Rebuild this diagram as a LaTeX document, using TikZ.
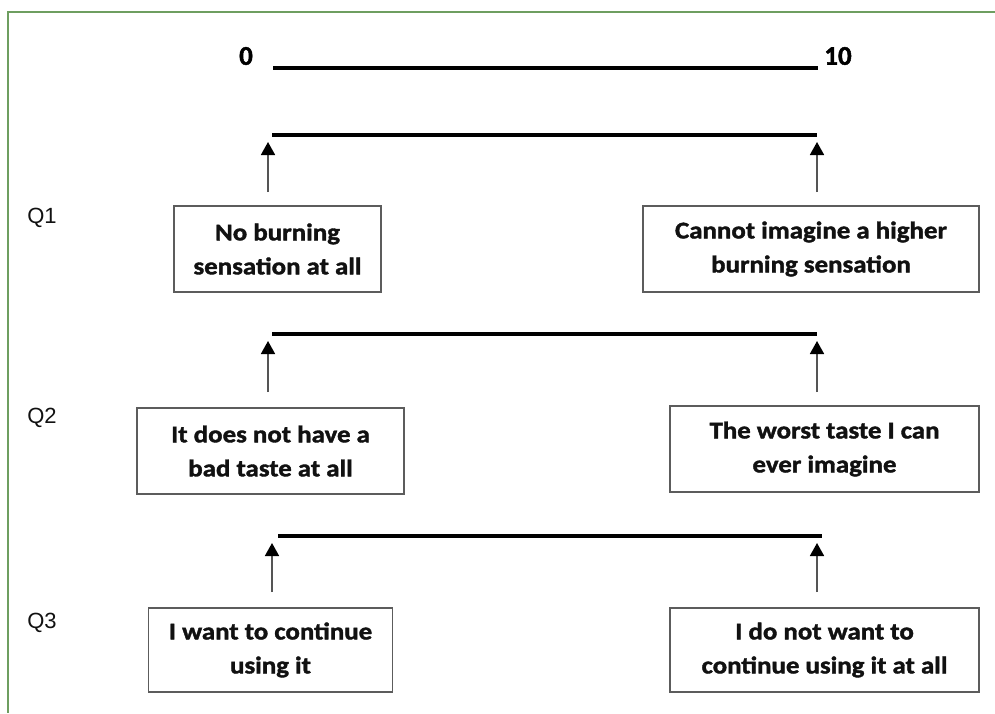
\documentclass[tikz,border=0pt]{standalone}
\usepackage{fontspec}
\setmainfont{Liberation Sans}
\newfontfamily\boxfont{Carlito}[FakeStretch=1.12, BoldFeatures={FakeBold=1.6}]
\newfontfamily\numfont{Carlito}[BoldFeatures={FakeBold=1.6}]
\usetikzlibrary{arrows.meta}
\definecolor{framegreen}{HTML}{6E9E60}
\definecolor{boxgray}{HTML}{5C5C5C}
\definecolor{arrowgray}{HTML}{555555}
\definecolor{textblack}{HTML}{111111}
\tikzset{
  anchorbox/.style={draw=boxgray, line width=1.8pt, inner sep=0pt, align=center,
    text=textblack, minimum height=#1, font=\boxfont\bfseries\fontsize{24}{34}\selectfont},
  scaleline/.style={line width=3.2pt, black},
  uparrow/.style={draw=arrowgray, line width=1.7pt,
    -{Triangle[length=13pt,width=14pt,fill=black,color=black]}},
  qlabel/.style={font=\fontsize{22}{26}\selectfont, inner sep=0pt, text=textblack},
  numlabel/.style={font=\numfont\bfseries\fontsize{27}{30}\selectfont, inner sep=0pt},
  frameline/.style={draw=framegreen, line width=1.6pt}
}
\begin{document}
\begin{tikzpicture}[x=1pt,y=-1pt]
\useasboundingbox (0,0) rectangle (995,713);
% frame
\coordinate (fa) at (995,12);
\coordinate (fb) at (8,12);
\coordinate (fc) at (8,713);
\draw[frameline] (fa) -- (fb) -- (fc);

% top scale
\node[numlabel] (zero) at (246,56) {0};
\node[numlabel] (ten) at (838,56) {10};
\coordinate (s0a) at (273,68);
\coordinate (s0b) at (818,68);
\draw[scaleline] (s0a) -- (s0b);

% Q1
\node[qlabel] (q1) at (42,218) {Q1};
\coordinate (s1a) at (272,135);
\coordinate (s1b) at (817,135);
\draw[scaleline] (s1a) -- (s1b);
\node[anchorbox=86pt, minimum width=207pt] (b1l) at (277.5,249) {No burning\\sensation at all};
\node[anchorbox=86pt, minimum width=336pt] (b1r) at (811,249) {Cannot imagine a higher\\burning sensation};
\coordinate (a1ls) at (268,192);
\coordinate (a1le) at (268,142);
\coordinate (a1rs) at (817,192);
\coordinate (a1re) at (817,142);
\draw[uparrow] (a1ls) -- (a1le);
\draw[uparrow] (a1rs) -- (a1re);

% Q2
\node[qlabel] (q2) at (42,418) {Q2};
\coordinate (s2a) at (272,334);
\coordinate (s2b) at (817,334);
\draw[scaleline] (s2a) -- (s2b);
\node[anchorbox=86pt, minimum width=267pt] (b2l) at (270.5,451) {It does not have a\\bad taste at all};
\node[anchorbox=86pt, minimum width=309pt] (b2r) at (824.5,449) {The worst taste I can\\ever imagine};
\coordinate (a2ls) at (268,392);
\coordinate (a2le) at (268,341);
\coordinate (a2rs) at (817,392);
\coordinate (a2re) at (817,341);
\draw[uparrow] (a2ls) -- (a2le);
\draw[uparrow] (a2rs) -- (a2re);

% Q3
\node[qlabel] (q3) at (42,623) {Q3};
\coordinate (s3a) at (278,536);
\coordinate (s3b) at (822,536);
\draw[scaleline] (s3a) -- (s3b);
\node[anchorbox=84pt, minimum width=244pt] (b3l) at (270.5,650) {I want to continue\\using it};
\node[anchorbox=84pt, minimum width=309pt] (b3r) at (824.5,650) {I do not want to\\continue using it at all};
\coordinate (a3ls) at (272,592);
\coordinate (a3le) at (272,543);
\coordinate (a3rs) at (817,592);
\coordinate (a3re) at (817,543);
\draw[uparrow] (a3ls) -- (a3le);
\draw[uparrow] (a3rs) -- (a3re);
\end{tikzpicture}
\end{document}
